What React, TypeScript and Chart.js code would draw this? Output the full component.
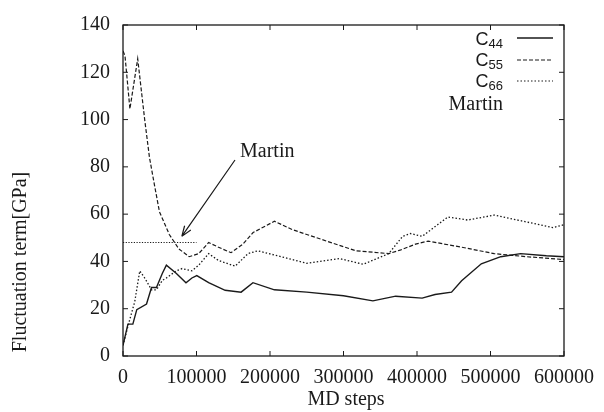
import React, { useEffect, useRef } from "react";
import { Chart, registerables } from "chart.js";

Chart.register(...registerables);

// ---- Data ----
const xTicks = [0, 100000, 200000, 300000, 400000, 500000, 600000];
const yTicks = [0, 20, 40, 60, 80, 100, 120, 140];

const c44Steps = [0, 6700, 13400, 18750, 32000, 38800, 45500, 53600, 59000, 72300, 85700, 93750, 100400, 116500, 139000, 160700, 176800, 206000, 250000, 300000, 340000, 371000, 407000, 424500, 447000, 460700, 487500, 514000, 541000, 576000, 600000];
const c44Values = [4.5, 13.5, 13.5, 19.6, 22, 29, 29, 35, 38.4, 35, 31, 33, 34, 31, 27.8, 27, 31, 28, 27, 25.5, 23.3, 25.3, 24.5, 26, 27, 31.8, 39, 42, 43.3, 42.4, 42];

const c55Steps = [0, 2700, 9400, 20000, 29500, 36000, 43000, 49600, 63000, 76000, 90000, 103000, 116500, 130000, 147000, 163000, 177000, 206000, 230000, 250000, 277000, 317000, 361600, 378000, 398000, 415000, 461000, 505000, 549000, 600000];
const c55Values = [129, 127, 104.5, 125.7, 100, 84, 72, 61, 51.4, 45.3, 42, 43.3, 48, 46, 43.7, 47.3, 52.2, 57, 53.5, 51.4, 48.6, 44.5, 43.3, 44.9, 47.3, 48.6, 46, 43.3, 42, 40.8];

const c66Steps = [0, 6700, 16000, 22800, 29500, 38800, 45500, 53600, 59000, 72300, 80400, 93750, 103000, 116500, 130000, 152700, 170000, 183500, 210000, 250000, 294600, 326800, 361600, 380400, 391000, 407000, 442000, 469000, 505000, 549000, 585000, 600000];
const c66Values = [4.5, 12.6, 23, 36, 33, 28, 28, 32, 33, 36, 37, 36, 38.4, 43.3, 40.4, 38, 43.3, 44.5, 42.4, 39.2, 41.2, 38.8, 43.3, 50.6, 51.8, 50.6, 58.8, 57.5, 59.6, 56.7, 54.3, 55.5];

const martinSteps = [0, 100000];
const martinValues = [48, 48];

const seriesNames = ["C44", "C55", "C66", "Martin"];

// annotation arrow: tip position in data units, tail in pixels near label
const arrowTipStep = 80000;
const arrowTipValue = 50.6;

const toPoints = (xs: number[], ys: number[]) => xs.map((x, i) => ({ x, y: ys[i] }));

const INK = "#1a1a1a";
const SERIF = '"Liberation Serif", "Times New Roman", serif';
const SANS = '"Liberation Sans", Arial, sans-serif';

const framePlugin = {
  id: "gnuplotFrame",
  afterDraw(chart: any) {
    const { ctx, chartArea } = chart;
    const { left, right, top, bottom } = chartArea;
    const xs = chart.scales.x;
    const ys = chart.scales.y;
    ctx.save();
    ctx.strokeStyle = INK;
    ctx.lineWidth = 1.3;
    ctx.setLineDash([]);
    ctx.strokeRect(left, top, right - left, bottom - top);
    // inward ticks
    ctx.lineWidth = 1;
    const tl = 5;
    ctx.beginPath();
    xTicks.forEach((v) => {
      const px = xs.getPixelForValue(v);
      ctx.moveTo(px, bottom);
      ctx.lineTo(px, bottom - tl);
      ctx.moveTo(px, top);
      ctx.lineTo(px, top + tl);
    });
    yTicks.forEach((v) => {
      const py = ys.getPixelForValue(v);
      ctx.moveTo(left, py);
      ctx.lineTo(left + tl, py);
      ctx.moveTo(right, py);
      ctx.lineTo(right - tl, py);
    });
    ctx.stroke();

    // axis titles
    ctx.fillStyle = INK;
    ctx.font = `20px ${SERIF}`;
    ctx.textAlign = "center";
    ctx.textBaseline = "middle";
    ctx.fillText("MD steps", 346, 400);
    ctx.save();
    ctx.translate(21, 262);
    ctx.rotate(-Math.PI / 2);
    ctx.fillText("Fluctuation term[GPa]", 0, 0);
    ctx.restore();

    // legend
    const textRight = 503;
    const lineX0 = 517;
    const lineX1 = 553;
    const entries = [
      { main: "C", sub: "44", base: 45, lineY: 38, dash: [] as number[], w: 1.4 },
      { main: "C", sub: "55", base: 66, lineY: 60, dash: [4, 2], w: 1.2 },
      { main: "C", sub: "66", base: 87, lineY: 81, dash: [1.5, 2], w: 1.2 },
    ];
    ctx.textBaseline = "alphabetic";
    ctx.textAlign = "left";
    entries.forEach((e) => {
      ctx.font = `13px ${SANS}`;
      const sw = ctx.measureText(e.sub).width;
      ctx.font = `18px ${SANS}`;
      const cw = ctx.measureText(e.main).width;
      const x0 = textRight - sw - cw;
      ctx.fillText(e.main, x0, e.base);
      ctx.font = `13px ${SANS}`;
      ctx.fillText(e.sub, x0 + cw, e.base + 3);
      ctx.beginPath();
      ctx.setLineDash(e.dash);
      ctx.lineWidth = e.w;
      ctx.moveTo(lineX0, e.lineY);
      ctx.lineTo(lineX1, e.lineY);
      ctx.stroke();
    });
    ctx.setLineDash([]);
    ctx.font = `20px ${SERIF}`;
    ctx.textAlign = "right";
    ctx.fillText(seriesNames[3], textRight, 110);

    // annotation arrow
    ctx.textAlign = "left";
    ctx.fillText(seriesNames[3], 240, 157);
    const ax0 = 235, ay0 = 160;
    const ax1 = xs.getPixelForValue(arrowTipStep), ay1 = ys.getPixelForValue(arrowTipValue);
    ctx.lineWidth = 1.2;
    ctx.beginPath();
    ctx.moveTo(ax0, ay0);
    ctx.lineTo(ax1, ay1);
    const ang = Math.atan2(ay1 - ay0, ax1 - ax0);
    const hl = 11, ha = 0.35;
    ctx.moveTo(ax1, ay1);
    ctx.lineTo(ax1 - hl * Math.cos(ang - ha), ay1 - hl * Math.sin(ang - ha));
    ctx.moveTo(ax1, ay1);
    ctx.lineTo(ax1 - hl * Math.cos(ang + ha), ay1 - hl * Math.sin(ang + ha));
    ctx.stroke();
    ctx.restore();
  },
};

export default function App() {
  const ref = useRef<HTMLCanvasElement | null>(null);
  useEffect(() => {
    document.body.style.margin = "0";
    const canvas = ref.current;
    if (!canvas) return;
    const base = { pointRadius: 0, borderColor: INK, fill: false, tension: 0 };
    const chart = new Chart(canvas, {
      type: "line",
      data: {
        datasets: [
          { ...base, label: seriesNames[0], data: toPoints(c44Steps, c44Values), borderWidth: 1.4 },
          { ...base, label: seriesNames[1], data: toPoints(c55Steps, c55Values), borderWidth: 1.2, borderDash: [4, 2] },
          { ...base, label: seriesNames[2], data: toPoints(c66Steps, c66Values), borderWidth: 1.3, borderDash: [1.5, 2] },
          { ...base, label: seriesNames[3], data: toPoints(martinSteps, martinValues), borderWidth: 1.2, borderDash: [1.2, 1.5] },
        ],
      },
      options: {
        responsive: false,
        animation: false,
        devicePixelRatio: 1,
        layout: { padding: { left: 0, right: 33, top: 13, bottom: 0 } },
        plugins: { legend: { display: false }, tooltip: { enabled: false } },
        scales: {
          x: {
            type: "linear",
            min: 0,
            max: 600000,
            afterBuildTicks: (s: any) => { s.ticks = xTicks.map((v) => ({ value: v })); },
            afterFit: (s: any) => { s.height = 56; },
            grid: { display: false, drawTicks: false },
            border: { display: false },
            ticks: {
              autoSkip: false,
              maxRotation: 0,
              padding: 10,
              color: INK,
              font: { family: SERIF, size: 20 },
              callback: (v: any) => String(v),
            },
          },
          y: {
            min: 0,
            max: 140,
            afterBuildTicks: (s: any) => { s.ticks = yTicks.map((v) => ({ value: v })); },
            afterFit: (s: any) => { s.width = 123; },
            grid: { display: false, drawTicks: false },
            border: { display: false },
            ticks: {
              autoSkip: false,
              padding: 13,
              color: INK,
              font: { family: SERIF, size: 20 },
              callback: (v: any) => String(v),
            },
          },
        },
      },
      plugins: [framePlugin],
    } as any);
    return () => chart.destroy();
  }, []);
  return <canvas ref={ref} width={604} height={412} style={{ display: "block", width: 604, height: 412 }} />;
}
